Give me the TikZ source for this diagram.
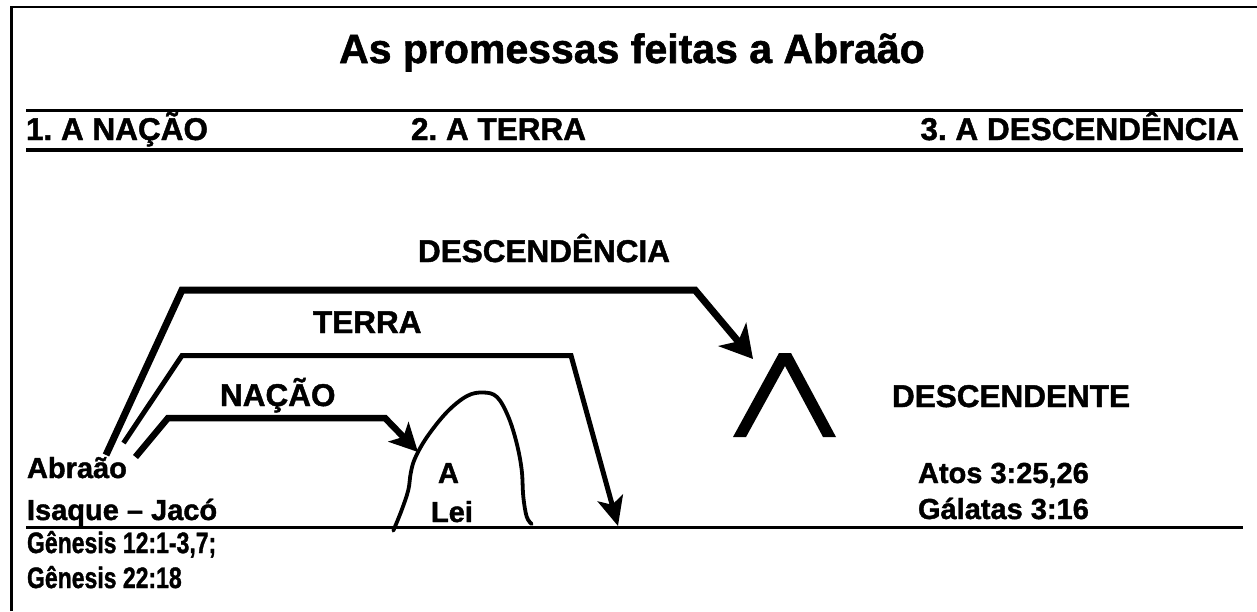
\documentclass[tikz,border=0pt]{standalone}
\usepackage{fontspec}
\setmainfont{Liberation Sans}[BoldFont={Liberation Sans Bold}, BoldFeatures={FakeBold=1.4}]
\usepackage{graphicx}
\usetikzlibrary{arrows.meta}
\frenchspacing
\newcommand{\narrowtxt}[1]{\scalebox{0.78}[1]{#1}}
\tikzset{
  txtbase/.style={inner sep=0pt, outer sep=0pt, anchor=base west},
  titletxt/.style={txtbase, anchor=base, font=\fontsize{41}{41}\selectfont\bfseries},
  headtxt/.style={txtbase, font=\fontsize{31.5}{31.5}\selectfont\bfseries},
  lbltxt/.style={txtbase, font=\fontsize{31.5}{31.5}\selectfont\bfseries},
  smalltxt/.style={txtbase, font=\fontsize{29}{29}\selectfont\bfseries},
  reftxt/.style={txtbase, font=\fontsize{29.5}{29.5}\selectfont\bfseries},
  rulel/.style={line width=3pt},
  promise/.style={line join=miter, line cap=butt},
  hill/.style={line width=3.8pt, line cap=round},
}
\begin{document}
\begin{tikzpicture}[x=1pt,y=-1pt]
\useasboundingbox (0,0) rectangle (1257,611);
% frame
\draw[line width=3pt] (11.5,611) -- (11.5,7);
\draw[line width=2.5pt] (10,7) -- (1257,7);
% header rules
\draw[rulel] (26,110.5) -- (1243,110.5);
\draw[rulel,line width=3.5pt] (26,150) -- (1243,150);
\draw[rulel] (26,527.5) -- (1243,527.5);
% title and headings
\node[titletxt] (title) at (632,63) {As promessas feitas a Abraão};
\node[headtxt] (h1) at (26,140) {1. A NAÇÃO};
\node[headtxt] (h2) at (411,140) {2. A TERRA};
\node[headtxt, anchor=base east] (h3) at (1239,140) {3. A DESCENDÊNCIA};
% labels
\node[lbltxt] (lDesc) at (418,262) {DESCENDÊNCIA};
\node[lbltxt] (lTerra) at (313,333) {TERRA};
\node[lbltxt] (lNacao) at (220,406) {NAÇÃO};
\node[lbltxt] (lDescendente) at (892,407) {DESCENDENTE};
\node[smalltxt] (abraao) at (27,478) {Abraão};
\node[smalltxt] (isaque) at (27,520) {Isaque – Jacó};
\node[smalltxt] (leiA) at (438,483) {A};
\node[smalltxt] (lei) at (431,522) {Lei};
\node[smalltxt] (atos) at (918,483) {Atos 3:25,26};
\node[smalltxt] (galatas) at (918,519) {Gálatas 3:16};
\node[reftxt] (gen1) at (27,553) {\narrowtxt{Gênesis 12:1-3,7;}};
\node[reftxt] (gen2) at (27,588) {\narrowtxt{Gênesis 22:18}};
% path points
\coordinate (dS) at (106,455);
\coordinate (dA) at (182,290);
\coordinate (dB) at (695,290);
\coordinate (dT) at (753,359);
\coordinate (tS) at (123.5,443);
\coordinate (tA) at (182,355.5);
\coordinate (tB) at (571,355.5);
\coordinate (tT) at (618,526);
\coordinate (nS) at (135.5,457);
\coordinate (nA) at (168,418);
\coordinate (nB) at (385,418);
\coordinate (nT) at (418,452);
% promise arrows
\draw[promise, line width=7pt, -{Stealth[length=32pt,width=36pt,inset=9pt]}] (dS) -- (dA) -- (dB) -- (dT);
\draw[promise, line width=5pt, -{Stealth[length=29pt,width=26pt,inset=7pt]}] (tS) -- (tA) -- (tB) -- (tT);
\draw[promise, line width=6.5pt, -{Stealth[length=28pt,width=28pt,inset=7pt]}] (nS) -- (nA) -- (nB) -- (nT);
% the hill of the Law
\draw[hill] plot[smooth, tension=0.6] coordinates {
  (393.3,530.7) (401.7,510) (408.3,490) (410.7,473.3) (415,458.3)
  (427,437) (447,412) (467,396) (483.3,392.5) (497,397)
  (508.3,416.7) (516.7,443.3) (521.7,470) (523.3,496.7) (526.7,516.7) (531.7,524)};
% the Lambda (descendant)
\fill (733,437) -- (779,353) -- (791,353) -- (836,437) -- (823,437) -- (785,366) -- (746,437) -- cycle;
\end{tikzpicture}
\end{document}
